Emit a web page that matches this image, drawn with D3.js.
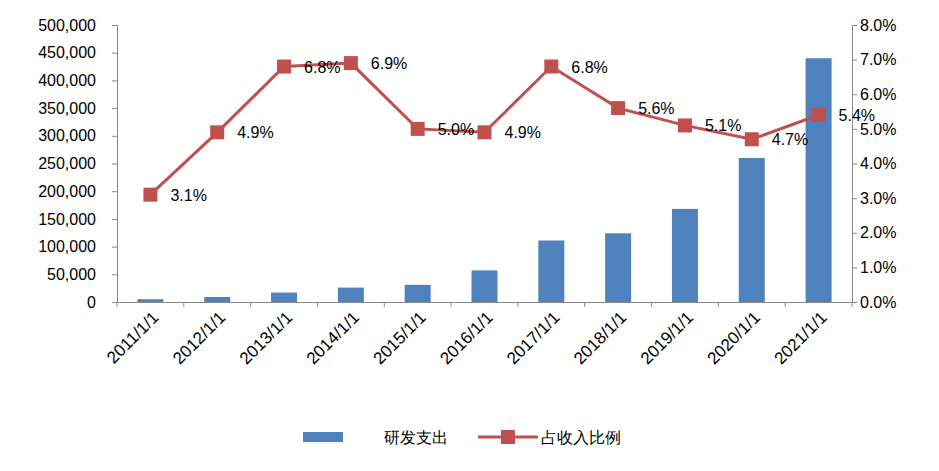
<!DOCTYPE html><html><head><meta charset="utf-8"><script src="https://cdn.jsdelivr.net/npm/d3@7"></script>
<style>body{margin:0;background:#fff}text{font-family:"Liberation Sans","DejaVu Sans",sans-serif}</style></head><body>
<svg id="c" width="939" height="471"></svg>
<script>
const categories=["2011/1/1","2012/1/1","2013/1/1","2014/1/1","2015/1/1","2016/1/1","2017/1/1","2018/1/1","2019/1/1","2020/1/1","2021/1/1"];
const rdSpend=[5000,9000,17000,26000,31000,57000,111000,124000,168000,260000,440000];
const ratio=[3.1,4.9,6.8,6.9,5.0,4.9,6.8,5.6,5.1,4.7,5.4];
const leftTicks=d3.range(0,500001,50000);
const rightTicks=d3.range(0,8.01,1);
const svg=d3.select("#c");
const L=117,R=852,T=25,B=302;
const x=d3.scaleBand().domain(categories).range([L,R]);
const xc=d3.scalePoint().domain(categories).range([L,R]).padding(0.5);
const y=d3.scaleLinear().domain([0,500000]).range([B,T]);
const y2=d3.scaleLinear().domain([0,8]).range([B,T]);
const fs="16px";
const ga=svg.append("g").attr("transform",`translate(${L},0)`).call(d3.axisLeft(y).tickValues(leftTicks).tickFormat(d3.format(",")).tickSize(5).tickPadding(16));
ga.selectAll("text").style("font-size",fs).attr("fill","#000");
const gb=svg.append("g").attr("transform",`translate(${R},0)`).call(d3.axisRight(y2).tickValues(rightTicks).tickFormat(d=>d.toFixed(1)+"%").tickSize(5));
gb.selectAll("text").style("font-size",fs).attr("fill","#000");
const gx=svg.append("g").attr("transform",`translate(0,${B})`).call(d3.axisBottom(x).tickSize(0));
gx.selectAll("text").style("font-size","17px").attr("fill","#000").attr("text-anchor","end").attr("transform","rotate(-45)").attr("dx","-0.3em").attr("dy","0.9em");
svg.append("g").selectAll("line").data(d3.range(categories.length+1)).join("line")
 .attr("x1",i=>L+i*(R-L)/categories.length).attr("x2",i=>L+i*(R-L)/categories.length).attr("y1",B).attr("y2",B+5).attr("stroke","#888");
svg.selectAll(".domain,.tick line").attr("stroke","#888");
svg.append("g").selectAll("rect").data(rdSpend).join("rect")
 .attr("x",(d,i)=>xc(categories[i])-13).attr("width",26).attr("y",d=>y(d)).attr("height",d=>B-y(d)).attr("fill","#4F81BD");
svg.append("path").datum(ratio).attr("fill","none").attr("stroke","#C0504D").attr("stroke-width",3)
 .attr("d",d3.line().x((d,i)=>xc(categories[i])).y(d=>y2(d)));
svg.append("g").selectAll("rect").data(ratio).join("rect")
 .attr("x",(d,i)=>xc(categories[i])-7).attr("y",d=>y2(d)-7).attr("width",14).attr("height",14).attr("fill","#C0504D");
svg.append("g").selectAll("text").data(ratio).join("text")
 .attr("x",(d,i)=>xc(categories[i])+20).attr("y",d=>y2(d)+6).style("font-size",fs).text(d=>d.toFixed(1)+"%");
svg.append("rect").attr("x",303).attr("y",432).attr("width",40).attr("height",10).attr("fill","#4F81BD");
svg.append("text").attr("x",384).attr("y",443).style("font-size",fs).text("研发支出");
svg.append("line").attr("x1",478).attr("x2",538).attr("y1",437).attr("y2",437).attr("stroke","#C0504D").attr("stroke-width",3);
svg.append("rect").attr("x",501).attr("y",430).attr("width",14).attr("height",14).attr("fill","#C0504D");
svg.append("text").attr("x",541).attr("y",443).style("font-size",fs).text("占收入比例");
</script></body></html>
